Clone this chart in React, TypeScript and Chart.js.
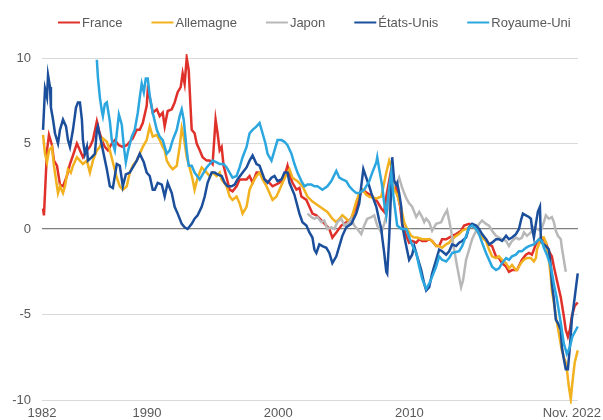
import { useEffect, useRef } from 'react';
import { Chart, registerables } from 'chart.js';

Chart.register(...registerables);

const SERIES_NAMES = ['France', 'Allemagne', 'Japon', 'États-Unis', 'Royaume-Uni'];
const SERIES_COLORS = ['#e0302a', '#f2b11e', '#b8b8b8', '#1b4e9b', '#2ba6df'];

const X_TICKS = [1982, 1990, 2000, 2010, 2022.83];
const X_TICK_LABELS = ['1982', '1990', '2000', '2010', 'Nov. 2022'];
const Y_MIN = -10;
const Y_MAX = 10;
const Y_STEP = 5;

const FRANCE: [number, number][] = [
  [1982.08, 1.2], [1982.15, 0.8], [1982.38, 4.6], [1982.53, 5.5], [1982.76, 4.9], [1982.91, 4.0], [1983.14, 3.7], [1983.37, 2.6], [1983.6, 2.5], [1983.9, 3.1],
  [1984.13, 3.8], [1984.36, 4.3], [1984.66, 5.0], [1984.89, 4.6], [1985.12, 4.2], [1985.42, 4.6], [1985.65, 4.8], [1985.88, 5.2], [1986.18, 6.3], [1986.33, 5.8],
  [1986.56, 5.2], [1986.79, 4.8], [1987.02, 4.6], [1987.32, 5.0], [1987.55, 5.2], [1987.86, 4.9], [1988.16, 4.8], [1988.46, 4.9], [1988.92, 5.3], [1989.22, 5.8],
  [1989.45, 5.8], [1989.68, 6.2], [1989.98, 7.2], [1990.06, 8.1], [1990.21, 7.7], [1990.44, 6.8], [1990.75, 7.0], [1990.97, 6.6], [1991.2, 6.8], [1991.35, 6.0],
  [1991.58, 6.9], [1991.89, 7.0], [1992.11, 7.4], [1992.34, 8.0], [1992.57, 8.3], [1992.72, 9.1], [1992.87, 8.5], [1993.03, 10.0], [1993.18, 9.3], [1993.33, 7.0],
  [1993.41, 5.8], [1993.63, 5.6], [1993.79, 5.0], [1994.02, 4.6], [1994.24, 4.2], [1994.55, 4.0], [1994.78, 4.0], [1995.0, 3.8], [1995.23, 6.4], [1995.38, 5.6],
  [1995.54, 4.6], [1995.69, 4.8], [1995.84, 3.7], [1996.07, 3.0], [1996.3, 2.3], [1996.52, 2.2], [1996.83, 2.5], [1997.06, 2.9], [1997.29, 2.9], [1997.59, 2.9],
  [1997.82, 3.1], [1998.05, 2.7], [1998.35, 3.3], [1998.58, 3.3], [1998.96, 2.9], [1999.34, 2.7], [1999.57, 2.5], [2000.1, 2.7], [2000.48, 3.1], [2000.71, 3.7],
  [2000.86, 3.2], [2001.09, 2.7], [2001.39, 2.3], [2001.62, 2.4], [2001.77, 1.9], [2002.15, 1.7], [2002.38, 1.3], [2002.61, 0.9], [2002.91, 0.8], [2003.29, 0.5],
  [2003.67, 0.2], [2003.9, 0.0], [2004.13, -0.5], [2004.43, -0.2], [2004.81, 0.2], [2005.19, 0.4], [2005.57, 0.6], [2005.95, 1.3], [2006.18, 1.9], [2006.41, 2.3],
  [2006.79, 2.1], [2007.17, 1.9], [2007.55, 1.6], [2007.86, 1.2], [2008.08, 1.0], [2008.24, 1.9], [2008.62, 3.5], [2008.84, 2.8], [2009.07, 2.1], [2009.3, 1.3],
  [2009.45, 0.3], [2009.76, -0.4], [2009.98, -0.8], [2010.21, -0.7], [2010.52, -0.8], [2010.75, -0.6], [2010.97, -0.7], [2011.28, -0.7], [2011.51, -0.6], [2011.73, -0.7],
  [2012.04, -1.0], [2012.27, -1.0], [2012.49, -0.6], [2012.8, -0.6], [2013.03, -0.5], [2013.26, -0.4], [2013.56, -0.3], [2013.94, -0.1], [2014.17, 0.2], [2014.55, 0.3],
  [2014.78, 0.2], [2015.08, 0.0], [2015.31, -0.3], [2015.54, -0.4], [2015.84, -0.6], [2016.07, -0.9], [2016.3, -1.0], [2016.6, -1.6], [2016.83, -1.7], [2017.06, -2.0],
  [2017.37, -2.2], [2017.59, -2.5], [2017.82, -2.4], [2018.2, -2.4], [2018.58, -1.8], [2018.88, -1.5], [2019.11, -1.4], [2019.34, -1.5], [2019.64, -0.9], [2019.87, -0.6],
  [2020.1, -0.5], [2020.4, -0.8], [2020.63, -1.3], [2020.86, -1.6], [2021.01, -2.2], [2021.24, -3.0], [2021.54, -4.0], [2021.77, -5.1], [2021.92, -5.9], [2022.08, -6.3],
  [2022.23, -5.9], [2022.38, -5.1], [2022.6, -4.5], [2022.83, -4.3],
];

const ALLEMAGNE: [number, number][] = [
  [1982.08, 5.5], [1982.23, 4.4], [1982.38, 3.9], [1982.53, 4.6], [1982.76, 4.8], [1982.91, 3.7], [1983.14, 2.5], [1983.22, 2.1], [1983.37, 2.5], [1983.6, 2.1],
  [1983.75, 2.5], [1983.98, 3.5], [1984.2, 3.3], [1984.36, 3.7], [1984.66, 4.2], [1984.89, 4.0], [1985.12, 3.8], [1985.42, 4.0], [1985.65, 3.3], [1985.88, 4.0],
  [1986.18, 4.6], [1986.41, 4.8], [1986.64, 5.3], [1986.94, 5.1], [1987.17, 4.6], [1987.4, 3.9], [1987.7, 3.0], [1987.93, 2.5], [1988.16, 2.3], [1988.46, 2.5],
  [1988.69, 3.3], [1988.92, 3.7], [1989.22, 4.0], [1989.45, 4.4], [1989.68, 4.8], [1989.98, 5.2], [1990.21, 6.0], [1990.44, 5.4], [1990.75, 5.5], [1990.97, 5.2],
  [1991.2, 4.8], [1991.35, 4.6], [1991.51, 4.0], [1991.73, 3.7], [1991.96, 3.5], [1992.27, 3.7], [1992.49, 4.8], [1992.65, 5.9], [1992.8, 5.4], [1993.03, 4.2],
  [1993.25, 3.6], [1993.48, 2.9], [1993.63, 2.3], [1993.86, 3.0], [1994.17, 3.6], [1994.55, 3.3], [1994.78, 3.1], [1995.0, 3.3], [1995.31, 3.1], [1995.54, 3.3],
  [1995.69, 2.9], [1996.07, 2.5], [1996.3, 1.9], [1996.52, 1.7], [1996.83, 1.9], [1997.06, 1.5], [1997.29, 0.9], [1997.59, 1.3], [1997.82, 2.3], [1998.05, 2.7],
  [1998.35, 3.1], [1998.58, 3.3], [1998.81, 2.9], [1999.11, 2.5], [1999.34, 2.1], [1999.57, 1.7], [1999.87, 1.9], [2000.1, 2.3], [2000.33, 2.7], [2000.63, 3.2],
  [2000.86, 3.5], [2001.09, 3.0], [2001.47, 2.8], [2001.85, 2.5], [2002.23, 1.9], [2002.61, 1.6], [2002.99, 1.4], [2003.37, 1.2], [2003.75, 1.0], [2004.13, 0.6],
  [2004.43, 0.4], [2004.66, 0.6], [2004.89, 0.8], [2005.19, 0.6], [2005.42, 0.4], [2005.65, 0.8], [2005.95, 1.6], [2006.18, 2.1], [2006.41, 2.3], [2006.71, 2.0],
  [2006.94, 1.9], [2007.32, 1.8], [2007.55, 1.8], [2007.86, 1.9], [2008.24, 3.3], [2008.46, 4.0], [2008.69, 3.5], [2008.84, 2.3], [2009.07, 2.0], [2009.38, 1.2],
  [2009.6, 0.4], [2009.83, 0.0], [2010.14, -0.4], [2010.37, -0.5], [2010.59, -0.5], [2010.97, -0.6], [2011.28, -0.6], [2011.51, -0.6], [2011.73, -0.7], [2012.04, -1.0],
  [2012.27, -1.0], [2012.49, -1.1], [2012.8, -0.9], [2013.03, -0.8], [2013.26, -0.6], [2013.56, -0.4], [2013.79, -0.3], [2014.02, -0.1], [2014.32, 0.0], [2014.55, 0.1],
  [2014.78, 0.2], [2015.08, 0.0], [2015.31, -0.3], [2015.54, -0.5], [2015.84, -0.7], [2016.07, -1.2], [2016.3, -1.6], [2016.6, -1.7], [2016.83, -1.6], [2017.06, -1.8],
  [2017.37, -2.0], [2017.59, -2.3], [2017.82, -2.1], [2018.12, -2.4], [2018.2, -2.4], [2018.5, -2.0], [2018.73, -1.8], [2018.96, -1.7], [2019.26, -1.7], [2019.49, -1.9],
  [2019.64, -1.7], [2019.72, -1.2], [2019.87, -0.9], [2020.1, -0.5], [2020.25, -0.5], [2020.4, -0.8], [2020.63, -1.8], [2020.78, -2.8], [2020.86, -3.6], [2021.01, -4.3],
  [2021.16, -5.1], [2021.39, -6.1], [2021.62, -7.1], [2021.77, -7.5], [2021.92, -7.8], [2022.0, -8.2], [2022.15, -9.2], [2022.3, -9.95], [2022.42, -9.0], [2022.6, -7.8],
  [2022.83, -7.1],
];

const JAPON: [number, number][] = [
  [2002.23, 0.9], [2002.53, 0.7], [2002.76, 0.6], [2002.99, 0.7], [2003.29, 0.4], [2003.52, 0.5], [2003.75, 0.0], [2004.05, 0.1], [2004.28, 0.0], [2004.51, 0.4],
  [2004.81, 0.6], [2005.04, 0.2], [2005.42, 0.4], [2005.57, 0.6], [2005.8, 0.2], [2006.03, 0.0], [2006.33, -0.3], [2006.56, 0.2], [2006.79, 0.6], [2007.1, 0.7],
  [2007.32, 0.8], [2007.55, 0.2], [2007.86, -0.2], [2008.08, 0.3], [2008.31, 1.0], [2008.62, 2.3], [2008.84, 2.6], [2009.07, 2.7], [2009.22, 3.0], [2009.45, 2.4],
  [2009.76, 1.8], [2009.98, 1.5], [2010.21, 1.3], [2010.52, 0.7], [2010.75, 1.0], [2010.97, 0.7], [2011.13, 0.4], [2011.28, 0.6], [2011.51, 0.4], [2011.73, -0.1],
  [2012.04, 0.3], [2012.42, 0.4], [2012.65, 0.8], [2012.87, 1.1], [2013.03, 0.5], [2013.18, -0.1], [2013.41, -1.2], [2013.64, -2.2], [2013.94, -3.4], [2014.09, -3.0],
  [2014.32, -1.8], [2014.55, -1.2], [2014.78, -0.6], [2015.08, -0.1], [2015.31, 0.3], [2015.54, 0.5], [2015.84, 0.3], [2016.07, 0.2], [2016.3, -0.1], [2016.6, -0.4],
  [2016.83, -0.5], [2017.06, -0.6], [2017.37, -0.7], [2017.59, -1.0], [2017.82, -0.7], [2018.12, -0.5], [2018.35, -0.6], [2018.58, -0.5], [2018.73, -0.2], [2018.96, -0.4],
  [2019.26, -0.2], [2019.49, 0.1], [2019.72, 0.0], [2020.02, -0.1], [2020.25, 0.4], [2020.4, 0.8], [2020.63, 0.6], [2020.86, 0.7], [2021.01, 0.4], [2021.16, -0.1],
  [2021.32, -0.4], [2021.54, -0.6], [2021.62, -1.1], [2021.77, -1.8], [2021.92, -2.5],
];

const ETATS_UNIS: [number, number][] = [
  [1982.08, 5.8], [1982.23, 8.2], [1982.38, 7.7], [1982.46, 9.0], [1982.61, 8.3], [1982.68, 7.1], [1982.84, 6.4], [1982.99, 5.6], [1983.22, 5.0], [1983.37, 5.8],
  [1983.6, 6.4], [1983.83, 6.0], [1983.98, 5.2], [1984.13, 4.8], [1984.36, 5.8], [1984.59, 7.1], [1984.74, 7.4], [1984.89, 7.4], [1985.04, 6.4], [1985.12, 5.2],
  [1985.27, 4.4], [1985.42, 4.8], [1985.5, 4.0], [1985.8, 4.2], [1986.03, 4.4], [1986.18, 5.8], [1986.26, 6.0], [1986.64, 4.6], [1986.94, 3.5], [1987.17, 2.5],
  [1987.4, 2.4], [1987.7, 3.8], [1987.93, 3.7], [1988.16, 2.5], [1988.39, 3.2], [1988.69, 3.3], [1989.22, 4.0], [1989.45, 4.4], [1989.76, 3.9], [1989.98, 3.3],
  [1990.21, 3.1], [1990.44, 2.3], [1990.59, 2.3], [1990.82, 2.7], [1991.13, 2.6], [1991.35, 1.9], [1991.58, 2.7], [1991.89, 2.1], [1992.11, 1.3], [1992.34, 0.9],
  [1992.65, 0.3], [1992.87, 0.1], [1993.1, 0.0], [1993.41, 0.3], [1993.63, 0.6], [1993.86, 0.8], [1994.17, 1.3], [1994.4, 1.9], [1994.62, 2.7], [1994.93, 3.3],
  [1995.16, 3.3], [1995.38, 3.2], [1995.69, 3.1], [1995.92, 2.7], [1996.14, 2.5], [1996.45, 2.5], [1996.68, 2.6], [1996.9, 2.9], [1997.29, 3.3], [1997.59, 3.6],
  [1997.82, 4.0], [1998.05, 4.3], [1998.35, 3.8], [1998.58, 3.7], [1998.96, 2.9], [1999.19, 2.7], [1999.49, 3.0], [1999.72, 3.1], [1999.95, 2.8], [2000.25, 2.9],
  [2000.48, 3.3], [2000.71, 3.3], [2000.86, 2.7], [2001.24, 2.0], [2001.62, 0.9], [2001.85, 0.4], [2002.15, 0.2], [2002.38, -0.2], [2002.61, -0.5], [2002.76, -1.2],
  [2002.91, -1.4], [2003.14, -0.9], [2003.37, -1.0], [2003.67, -1.1], [2003.9, -1.4], [2004.13, -2.0], [2004.43, -1.6], [2004.66, -1.0], [2004.89, -0.4], [2005.19, 0.1],
  [2005.57, 0.3], [2005.95, 0.9], [2006.18, 1.5], [2006.33, 2.5], [2006.49, 3.5], [2006.71, 3.0], [2006.94, 2.5], [2007.1, 2.1], [2007.48, 1.3], [2007.7, 0.5],
  [2007.86, 0.0], [2007.93, -0.5], [2008.08, -1.4], [2008.24, -2.5], [2008.31, -2.6], [2008.46, -0.5], [2008.62, 2.5], [2008.69, 4.2], [2008.84, 2.8], [2009.0, 2.6],
  [2009.07, 2.7], [2009.22, 2.1], [2009.38, 1.3], [2009.45, 0.3], [2009.6, -0.4], [2009.76, -1.0], [2009.98, -1.8], [2010.21, -1.5], [2010.37, -1.0], [2010.59, -1.6],
  [2010.9, -2.4], [2011.13, -3.2], [2011.28, -3.6], [2011.51, -3.4], [2011.73, -2.6], [2012.04, -1.8], [2012.27, -1.2], [2012.49, -1.3], [2012.8, -1.5], [2013.03, -1.3],
  [2013.26, -0.9], [2013.56, -1.0], [2013.79, -0.8], [2014.02, -0.7], [2014.32, -0.5], [2014.55, 0.1], [2014.78, 0.3], [2015.08, 0.2], [2015.31, 0.0], [2015.54, -0.3],
  [2015.84, -0.6], [2016.07, -0.9], [2016.3, -0.8], [2016.6, -0.6], [2016.83, -0.6], [2017.06, -0.7], [2017.37, -0.4], [2017.59, -0.6], [2017.82, -0.5], [2018.12, -0.3],
  [2018.35, 0.0], [2018.5, 0.5], [2018.65, 0.9], [2018.88, 0.8], [2019.11, 0.7], [2019.26, 0.6], [2019.34, 0.1], [2019.49, -0.5], [2019.64, 0.3], [2019.79, 1.0],
  [2019.95, 1.3], [2020.02, -0.6], [2020.1, -0.8], [2020.4, -1.0], [2020.63, -1.2], [2020.78, -2.2], [2020.86, -3.2], [2021.01, -4.1], [2021.16, -5.3], [2021.32, -5.5],
  [2021.54, -5.9], [2021.62, -6.9], [2021.77, -7.6], [2021.92, -8.2], [2022.08, -8.2], [2022.23, -6.9], [2022.38, -5.3], [2022.6, -4.0], [2022.83, -2.6],
];

const ROYAUME_UNI: [number, number][] = [
  [1986.18, 9.9], [1986.26, 8.9], [1986.41, 7.7], [1986.56, 6.9], [1986.64, 6.6], [1986.79, 7.3], [1986.94, 7.4], [1987.17, 6.3], [1987.32, 5.2], [1987.55, 4.6],
  [1987.7, 5.6], [1987.86, 6.7], [1988.08, 6.1], [1988.24, 4.8], [1988.39, 3.9], [1988.54, 4.5], [1988.84, 5.4], [1989.07, 5.8], [1989.3, 6.8], [1989.45, 7.7],
  [1989.6, 8.5], [1989.76, 8.0], [1989.91, 8.8], [1990.06, 8.8], [1990.21, 7.8], [1990.44, 6.8], [1990.75, 5.8], [1990.97, 5.4], [1991.2, 5.2], [1991.51, 4.4],
  [1991.73, 4.6], [1991.96, 5.2], [1992.27, 5.8], [1992.49, 6.6], [1992.65, 7.0], [1992.8, 6.4], [1993.03, 4.6], [1993.18, 3.7], [1993.41, 3.7], [1993.63, 3.3],
  [1994.02, 2.9], [1994.24, 3.2], [1994.55, 3.6], [1994.78, 3.8], [1995.0, 4.0], [1995.31, 3.9], [1995.54, 3.8], [1995.84, 3.8], [1996.07, 3.6], [1996.3, 3.3],
  [1996.52, 3.0], [1996.83, 3.1], [1997.06, 3.6], [1997.29, 4.2], [1997.59, 4.8], [1997.82, 5.6], [1998.05, 5.8], [1998.35, 6.0], [1998.58, 6.2], [1998.81, 5.6],
  [1999.03, 5.0], [1999.19, 4.4], [1999.49, 4.0], [1999.72, 4.6], [1999.95, 5.2], [2000.25, 5.2], [2000.48, 5.1], [2000.71, 4.9], [2001.01, 4.4], [2001.24, 3.8],
  [2001.47, 3.3], [2001.77, 2.8], [2002.0, 2.5], [2002.23, 2.6], [2002.53, 2.6], [2002.76, 2.5], [2002.99, 2.5], [2003.37, 2.3], [2003.75, 2.5], [2004.05, 2.8],
  [2004.43, 3.4], [2004.66, 3.0], [2004.89, 2.9], [2005.19, 2.8], [2005.42, 2.5], [2005.65, 2.3], [2005.95, 2.1], [2006.18, 2.1], [2006.56, 2.3], [2006.94, 2.8],
  [2007.17, 3.3], [2007.48, 3.9], [2007.55, 4.2], [2007.7, 3.5], [2007.93, 2.5], [2008.08, 1.5], [2008.24, 0.8], [2008.46, 2.5], [2008.62, 3.3], [2008.77, 2.0],
  [2009.07, 0.2], [2009.38, 0.0], [2009.76, 0.0], [2010.14, -0.8], [2010.37, -1.2], [2010.52, -1.4], [2010.75, -2.2], [2010.97, -2.9], [2011.28, -3.5], [2011.51, -3.2],
  [2011.73, -2.8], [2012.04, -2.2], [2012.27, -1.6], [2012.49, -1.8], [2012.8, -1.9], [2013.03, -1.7], [2013.26, -1.4], [2013.79, -1.3], [2014.02, -1.0], [2014.32, -0.4],
  [2014.55, 0.1], [2014.78, 0.2], [2015.08, 0.0], [2015.31, -0.3], [2015.54, -0.8], [2015.84, -1.4], [2016.07, -1.8], [2016.3, -2.2], [2016.6, -2.4], [2016.83, -2.3],
  [2017.06, -2.0], [2017.37, -1.7], [2017.59, -1.8], [2017.82, -1.6], [2018.12, -1.5], [2018.35, -1.3], [2018.58, -1.3], [2018.88, -1.1], [2019.11, -1.0], [2019.49, -0.9],
  [2019.87, -0.6], [2020.1, -0.7], [2020.25, -1.1], [2020.48, -1.5], [2020.78, -2.2], [2021.01, -3.2], [2021.24, -4.1], [2021.54, -5.5], [2021.77, -6.7], [2022.0, -7.3],
  [2022.23, -6.9], [2022.42, -6.3], [2022.83, -5.7],
];

const SERIES_DATA = [FRANCE, ALLEMAGNE, JAPON, ETATS_UNIS, ROYAUME_UNI];

const FONT = '"Liberation Sans", Arial, sans-serif';

const overlayPlugin = {
  id: 'overlay',
  afterDraw(chart: any) {
    const ctx = chart.ctx;
    const xs = chart.scales.x;
    ctx.save();
    ctx.font = `13px ${FONT}`;
    ctx.fillStyle = '#595959';
    ctx.textBaseline = 'middle';
    ctx.textAlign = 'left';
    X_TICKS.forEach((v, i) => {
      const label = X_TICK_LABELS[i];
      const w = ctx.measureText(label).width;
      let left = xs.getPixelForValue(v) - w / 2;
      left = Math.max(2, Math.min(left, chart.width - 2 - w));
      ctx.fillText(label, left, 413);
    });
    // legend
    let x = 58;
    const y = 22.5;
    SERIES_NAMES.forEach((name, i) => {
      ctx.strokeStyle = SERIES_COLORS[i];
      ctx.lineWidth = 2;
      ctx.beginPath();
      ctx.moveTo(x, y);
      ctx.lineTo(x + 22, y);
      ctx.stroke();
      ctx.fillStyle = '#595959';
      ctx.fillText(name, x + 24, y + 0.5);
      x += 24 + ctx.measureText(name).width + 29;
    });
    ctx.restore();
  },
};

export default function App() {
  const canvasRef = useRef<HTMLCanvasElement | null>(null);

  useEffect(() => {
    const canvas = canvasRef.current;
    if (!canvas) return;
    const chart = new Chart(canvas, {
      type: 'line',
      data: {
        datasets: SERIES_NAMES.map((name, i) => ({
          label: name,
          data: SERIES_DATA[i].map(([x, y]) => ({ x, y })),
          borderColor: SERIES_COLORS[i],
          backgroundColor: SERIES_COLORS[i],
          borderWidth: 2.5,
          pointRadius: 0,
          tension: 0,
          order: SERIES_NAMES.length - 1 - i,
          clip: 4,
        })),
      },
      options: {
        animation: false,
        responsive: false,
        devicePixelRatio: 1,
        layout: { padding: { top: 58, right: 25, bottom: 20, left: 0 } },
        plugins: { legend: { display: false }, tooltip: { enabled: false } },
        scales: {
          x: {
            type: 'linear',
            display: false,
            min: 1982,
            max: 2022.85,
          },
          y: {
            min: Y_MIN,
            max: Y_MAX,
            border: { display: false },
            grid: {
              drawTicks: false,
              color: (c: any) => (c.tick && c.tick.value === 0 ? '#7f7f7f' : '#d9d9d9'),
              lineWidth: (c: any) => (c.tick && c.tick.value === 0 ? 1.3 : 1),
            },
            ticks: {
              stepSize: Y_STEP,
              padding: 11,
              color: '#595959',
              font: { family: FONT, size: 13 },
            },
            afterFit: (scale: any) => {
              scale.width = 42;
            },
          },
        },
      },
      plugins: [overlayPlugin],
    });
    return () => chart.destroy();
  }, []);

  return (
    <div style={{ position: 'fixed', left: 0, top: 0, width: 603, height: 420, background: '#fff' }}>
      <canvas ref={canvasRef} width={603} height={420} style={{ display: 'block' }} />
    </div>
  );
}
